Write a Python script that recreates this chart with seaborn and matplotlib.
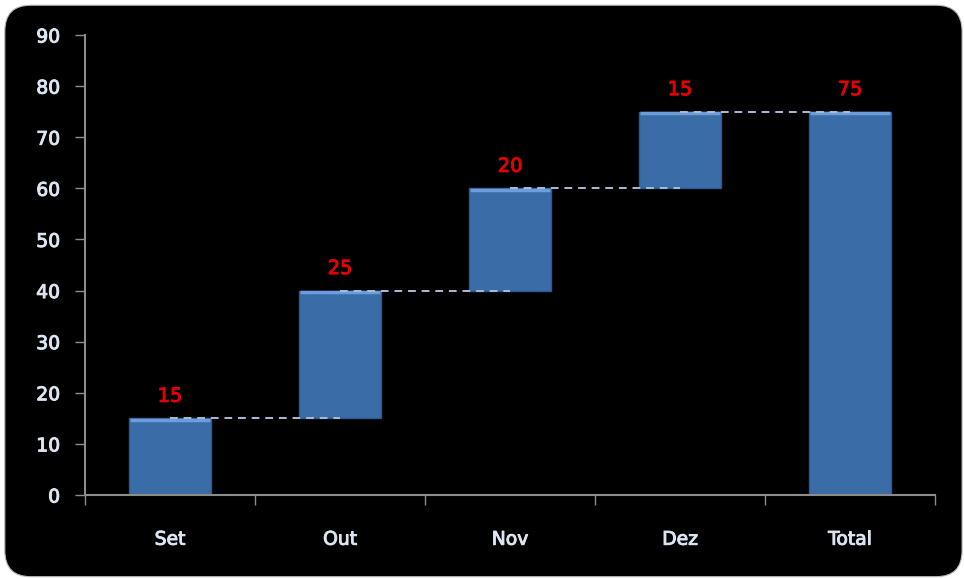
import matplotlib
matplotlib.use("Agg")
import matplotlib.pyplot as plt
import matplotlib.patheffects as pe
from matplotlib.patches import FancyBboxPatch
import seaborn as sns
import pandas as pd
import numpy as np

# Data
months = ["Set", "Out", "Nov", "Dez", "Total"]
changes = [15, 25, 20, 15, 75]
bases = [0, 15, 40, 60, 0]
ytick_values = [0, 10, 20, 30, 40, 50, 60, 70, 80, 90]

sns.set_theme(style="white")
plt.rcParams["font.family"] = ["DejaVu Sans"]

df = pd.DataFrame({"mes": months, "valor": changes, "base": bases})

fig = plt.figure(figsize=(9.64, 5.79), dpi=100, facecolor="white")

# black rounded panel behind the chart
panel = FancyBboxPatch((0.005, 0.004), 0.993, 0.987,
                       boxstyle="round,pad=0,rounding_size=0.027",
                       mutation_aspect=964 / 579,
                       transform=fig.transFigure, facecolor="black",
                       edgecolor="#bbbbbb", linewidth=0.8, zorder=-5)
fig.patches.append(panel)

ax = fig.add_axes([0.0882, 0.1451, 0.8818, 0.7945])
ax.set_facecolor("none")

sns.barplot(data=df, x="mes", y="valor", bottom=df["base"].values,
            color="#3a6ca7", saturation=1, width=0.48,
            edgecolor="#2c5a8e", linewidth=1.0, ax=ax, zorder=2)

# lighter bevel along the top of each bar
for i, (b, v) in enumerate(zip(bases, changes)):
    ax.plot([i - 0.235, i + 0.235], [b + v - 0.25, b + v - 0.25],
            color="#6d9ddb", linewidth=2.5, solid_capstyle="butt", zorder=2.5)

# connector lines between bars
tops = [b + v for b, v in zip(bases, changes)]
for i in range(len(months) - 1):
    ax.plot([i, i + 1], [tops[i], tops[i]], linestyle=(0, (4, 3)),
            color="#a9bcd6", linewidth=1.4, zorder=3)

# value labels
red_fx = [pe.withStroke(linewidth=0.7, foreground="#e60000")]
for i, (b, v) in enumerate(zip(bases, changes)):
    ax.annotate(str(v), (i, b + v), xytext=(0, 9), textcoords="offset points",
                ha="center", va="bottom", color="#e60000",
                fontsize=14, path_effects=red_fx)

ax.set_xlim(-0.5, len(months) - 0.5)
ax.set_ylim(0, 90)
ax.set_yticks(ytick_values)

# tick marks at category boundaries, labels at centres
ax.set_xticks(np.arange(-0.5, len(months), 1.0))
ax.set_xticklabels([])
ax.set_xticks(np.arange(len(months)), minor=True)
ax.set_xticklabels(months, minor=True)
ax.tick_params(axis="x", which="major", direction="out", length=7,
               width=1, color="#8c8c8c", bottom=True)
ax.tick_params(axis="x", which="minor", length=0, pad=25,
               labelsize=13.5, labelcolor="#dce6f2")
ax.tick_params(axis="y", direction="out", length=7, width=1,
               color="#8c8c8c", left=True, pad=11,
               labelsize=13.5, labelcolor="#dce6f2")
tick_fx = [pe.withStroke(linewidth=0.7, foreground="#dce6f2")]
for lbl in ax.get_xticklabels(minor=True) + ax.get_yticklabels():
    lbl.set_path_effects(tick_fx)

ax.set_xlabel("")
ax.set_ylabel("")
sns.despine(ax=ax)
for side in ["left", "bottom"]:
    ax.spines[side].set_color("#8c8c8c")
    ax.spines[side].set_linewidth(1.5)

fig.savefig("out.png", dpi=100, facecolor="white")
